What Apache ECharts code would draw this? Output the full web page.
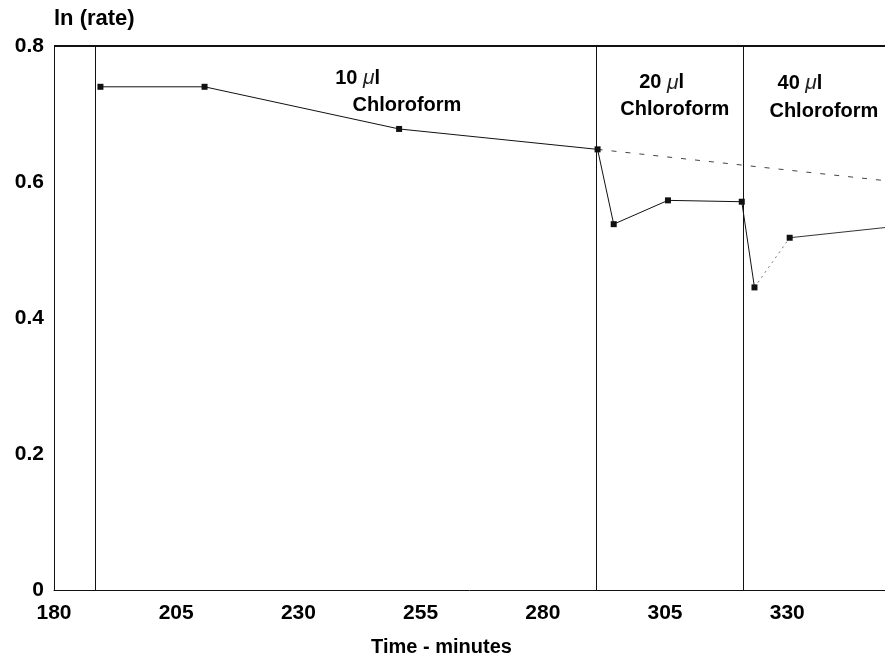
<!DOCTYPE html>
<html>
<head>
<meta charset="utf-8">
<script src="https://cdn.jsdelivr.net/npm/echarts@6/dist/echarts.min.js"></script>
<style>
html,body{margin:0;padding:0;background:#fff;}
#chart{width:885px;height:664px;}
</style>
</head>
<body>
<div id="chart"></div>
<script>
// Measured points (time in minutes, ln(rate))
const times  = [189.5, 210.8, 250.6, 291.2, 294.5, 305.6, 320.7, 323.3];
const lnRate = [0.740, 0.740, 0.678, 0.648, 0.538, 0.573, 0.571, 0.445];
// faint (dotted) segment after the 40 µl addition
const dottedTime = [323.3, 330.5];
const dottedRate = [0.445, 0.518];
// last segment, running off the right edge
const tailTime = [330.5, 350];
const tailRate = [0.518, 0.533];
// extrapolated baseline (dashed)
const baseTime = [291.2, 350];
const baseRate = [0.648, 0.602];
// chloroform additions
const additionTimes = [188.5, 291.0, 320.9];
// annotation texts
const doseLabels = ['10', '20', '40'];
const doseTime = [242.1, 304.3, 332.6];
const doseRate = [0.752, 0.746, 0.745];
const chloroLabel = 'Chloroform';
const chloroTime = [252.2, 307.0, 337.5];
const chloroRate = [0.713, 0.706, 0.703];
// ticks
const xTicks = { min: 180, max: 350, step: 25 };
const yTicks = { min: 0, max: 0.8, step: 0.2 };

const FONT = '"Liberation Sans", Arial, sans-serif';
const INK = '#000';

const pairs = (xs, ys) => xs.map((x, i) => [x, ys[i]]);

const annoData = [];
doseLabels.forEach((d, i) => {
  annoData.push({
    value: [doseTime[i], doseRate[i]],
    label: { formatter: '{b|' + d + ' }{mu|\u03bc}{b|l}' }
  });
});
chloroTime.forEach((t, i) => {
  annoData.push({ value: [t, chloroRate[i]], label: { formatter: '{b|' + chloroLabel + '}' } });
});

const chart = echarts.init(document.getElementById('chart'), null, { renderer: 'canvas' });
chart.setOption({
  animation: false,
  backgroundColor: '#fff',
  grid: { left: 54, right: -7, top: 46, bottom: 74, containLabel: false },
  xAxis: {
    type: 'value',
    min: xTicks.min, max: xTicks.max, interval: xTicks.step,
    axisLine: { show: true, lineStyle: { color: '#111', width: 1 } },
    axisTick: { show: false },
    splitLine: { show: false },
    axisLabel: {
      showMaxLabel: false,
      margin: 13,
      color: INK, fontFamily: FONT, fontWeight: 'bold', fontSize: 21
    },
    name: 'Time - minutes',
    nameLocation: 'middle',
    nameGap: 47,
    nameTextStyle: { color: INK, fontFamily: FONT, fontWeight: 'bold', fontSize: 20, padding: [0, 56, 0, 0] }
  },
  yAxis: {
    type: 'value',
    min: yTicks.min, max: yTicks.max, interval: yTicks.step,
    axisLine: { show: true, lineStyle: { color: '#111', width: 1 } },
    axisTick: { show: false },
    splitLine: { show: false },
    axisLabel: {
      margin: 10,
      color: INK, fontFamily: FONT, fontWeight: 'bold', fontSize: 21,
      formatter: v => (v === 0 ? '0' : v.toFixed(1))
    },
    name: 'ln (rate)',
    nameLocation: 'end',
    nameGap: 16,
    nameTextStyle: { color: INK, fontFamily: FONT, fontWeight: 'bold', fontSize: 22, align: 'left', verticalAlign: 'bottom' }
  },
  series: [
    {
      type: 'line',
      data: pairs(times, lnRate),
      symbol: 'rect', symbolSize: 6,
      itemStyle: { color: '#111' },
      lineStyle: { color: '#111', width: 1 },
      z: 5,
      markLine: {
        silent: true,
        symbol: 'none',
        label: { show: false },
        lineStyle: { color: '#111', width: 1, type: 'solid' },
        data: additionTimes.map(t => ({ xAxis: t }))
          .concat([{ yAxis: yTicks.max, lineStyle: { width: 2, color: '#111' } }])
      }
    },
    {
      type: 'line',
      data: pairs(dottedTime, dottedRate),
      symbol: 'none',
      lineStyle: { color: '#777', width: 1, type: [2, 4] }
    },
    {
      type: 'line',
      data: pairs(tailTime, tailRate).map((p, i) => ({ value: p, symbol: i === 0 ? 'rect' : 'none' })),
      symbolSize: 6,
      itemStyle: { color: '#111' },
      lineStyle: { color: '#333', width: 1 }
    },
    {
      type: 'line',
      data: pairs(baseTime, baseRate),
      symbol: 'none',
      lineStyle: { color: '#444', width: 1, type: [5, 9] }
    },
    {
      type: 'scatter',
      data: annoData,
      symbolSize: 0,
      silent: true,
      itemStyle: { opacity: 1 },
      label: {
        show: true,
        position: 'inside',
        color: INK,
        opacity: 1,
        rich: {
          b: { fontFamily: FONT, fontWeight: 'bold', fontSize: 20, color: INK },
          mu: { fontFamily: FONT, fontStyle: 'italic', fontWeight: 'normal', fontSize: 21, color: '#222' }
        }
      }
    }
  ]
});
</script>
</body>
</html>
